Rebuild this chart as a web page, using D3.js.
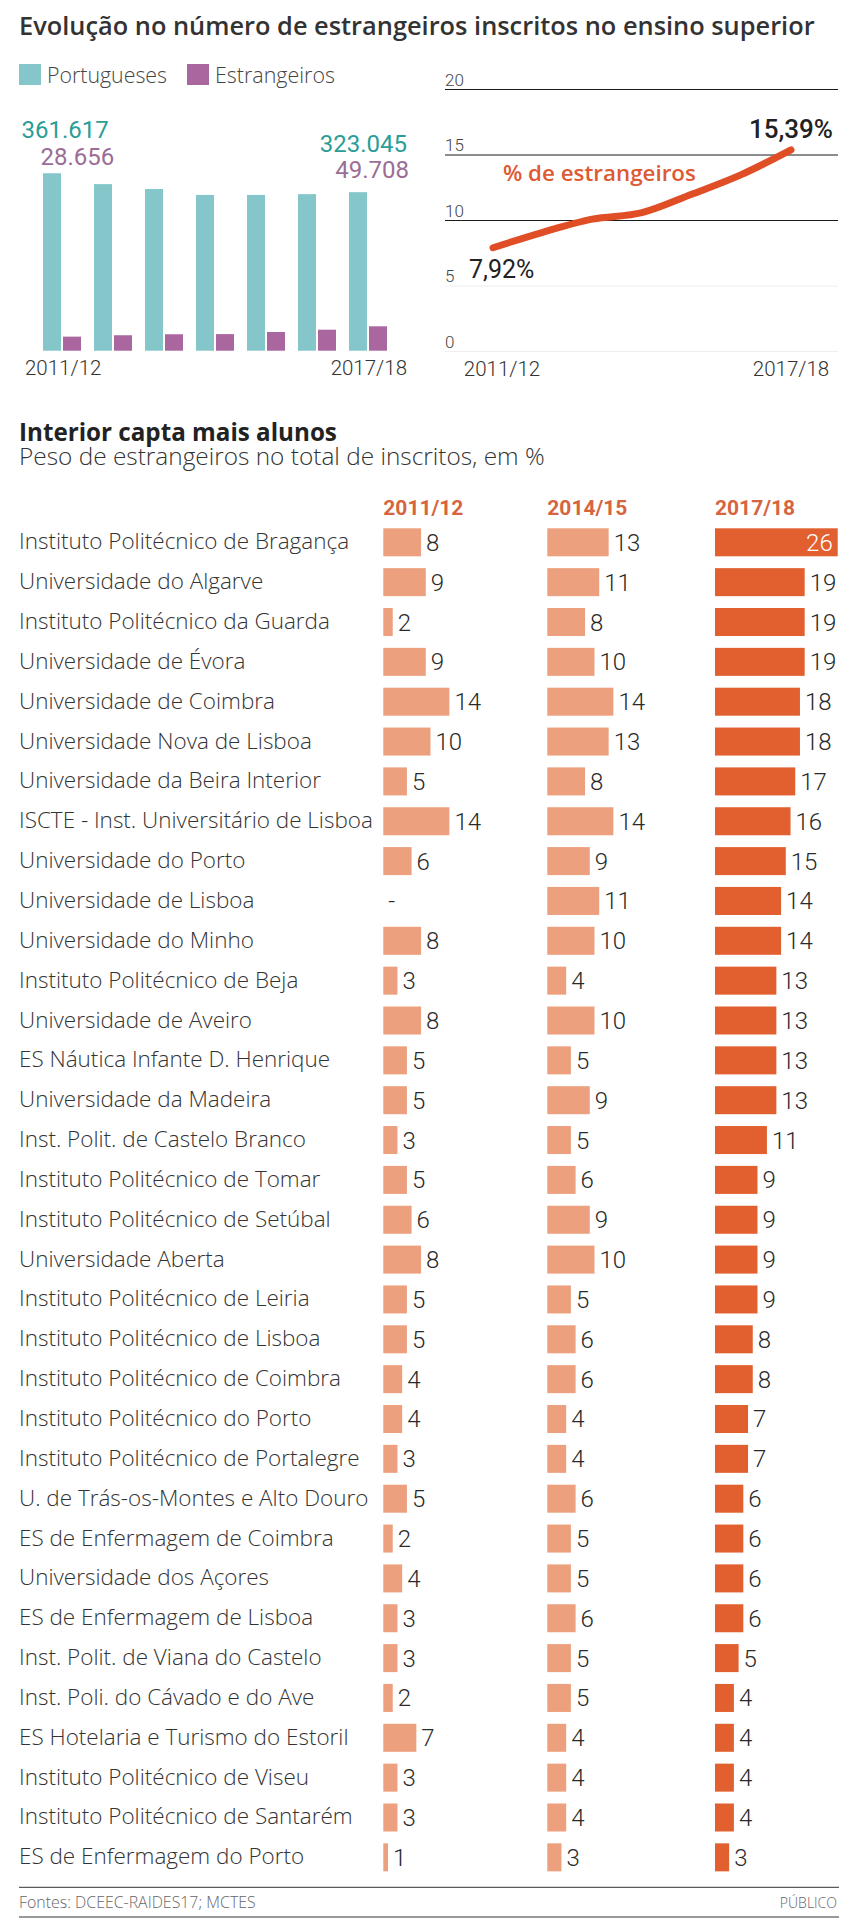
<!DOCTYPE html>
<html>
<head>
<meta charset="utf-8">
<script src="https://cdn.jsdelivr.net/npm/d3@7"></script>
<style>
  html, body { margin: 0; padding: 0; background: #fff; }
  svg { display: block; }
  text { font-family: Roboto, "Noto Sans", "DejaVu Sans", sans-serif; }
  .os { font-family: "Open Sans", Roboto, "Noto Sans", sans-serif; }
</style>
</head>
<body>
<svg id="chart" width="849" height="1927"></svg>
<script>
// ---------------- DATA ----------------
const years = ["2011/12", "2012/13", "2013/14", "2014/15", "2015/16", "2016/17", "2017/18"];
const portugueses = [361617, 339500, 329500, 317500, 317500, 319000, 323045];
const estrangeiros = [28656, 31500, 33500, 33800, 38100, 42800, 49708];
const pctEstrangeiros = [7.92, 9.1, 10.1, 10.6, 12.0, 13.5, 15.39];
const pctTicks = [0, 5, 10, 15, 20];
const legendLabels = ["Portugueses", "Estrangeiros"];

const institutions = [
  "Instituto Politécnico de Bragança",
  "Universidade do Algarve",
  "Instituto Politécnico da Guarda",
  "Universidade de Évora",
  "Universidade de Coimbra",
  "Universidade Nova de Lisboa",
  "Universidade da Beira Interior",
  "ISCTE - Inst. Universitário de Lisboa",
  "Universidade do Porto",
  "Universidade de Lisboa",
  "Universidade do Minho",
  "Instituto Politécnico de Beja",
  "Universidade de Aveiro",
  "ES Náutica Infante D. Henrique",
  "Universidade da Madeira",
  "Inst. Polit. de Castelo Branco",
  "Instituto Politécnico de Tomar",
  "Instituto Politécnico de Setúbal",
  "Universidade Aberta",
  "Instituto Politécnico de Leiria",
  "Instituto Politécnico de Lisboa",
  "Instituto Politécnico de Coimbra",
  "Instituto Politécnico do Porto",
  "Instituto Politécnico de Portalegre",
  "U. de Trás-os-Montes e Alto Douro",
  "ES de Enfermagem de Coimbra",
  "Universidade dos Açores",
  "ES de Enfermagem de Lisboa",
  "Inst. Polit. de Viana do Castelo",
  "Inst. Poli. do Cávado e do Ave",
  "ES Hotelaria e Turismo do Estoril",
  "Instituto Politécnico de Viseu",
  "Instituto Politécnico de Santarém",
  "ES de Enfermagem do Porto"
];
const columnYears = ["2011/12", "2014/15", "2017/18"];
const peso2011 = [8, 9, 2, 9, 14, 10, 5, 14, 6, null, 8, 3, 8, 5, 5, 3, 5, 6, 8, 5, 5, 4, 4, 3, 5, 2, 4, 3, 3, 2, 7, 3, 3, 1];
const peso2014 = [13, 11, 8, 10, 14, 13, 8, 14, 9, 11, 10, 4, 10, 5, 9, 5, 6, 9, 10, 5, 6, 6, 4, 4, 6, 5, 5, 6, 5, 5, 4, 4, 4, 3];
const peso2017 = [26, 19, 19, 19, 18, 18, 17, 16, 15, 14, 14, 13, 13, 13, 13, 11, 9, 9, 9, 9, 8, 8, 7, 7, 6, 6, 6, 6, 5, 4, 4, 4, 4, 3];

// ---------------- STYLE ----------------
const C = {
  title: "#333",
  teal: "#84c6c9", tealText: "#2a9e96",
  purple: "#a9669f", purpleText: "#9b6d96",
  orange: "#e04e26", orangeText: "#dd5a33",
  light: "#eda07d", dark: "#e2602f", header: "#d6653f",
  text: "#2a2a2a"
};

const svg = d3.select("#chart");
svg.append("rect").attr("width", 849).attr("height", 1927).attr("fill", "#fff");

const ptFormat = d3.formatLocale({ decimal: ",", thousands: ".", grouping: [3], currency: ["", "€"] });
const fmtInt = ptFormat.format(",d");
const fmtPct = ptFormat.format(".2f");

// scale a text's font-size so that its width matches a target width
function fitWidth(sel, target) {
  const fs = +sel.attr("font-size");
  const w = sel.node().getComputedTextLength();
  if (w > 0) sel.attr("font-size", fs * target / w);
  return sel;
}

// Title
fitWidth(svg.append("text").attr("class", "os").attr("x", 19).attr("y", 34.5)
  .attr("font-size", 23).attr("font-weight", 600).attr("fill", C.title)
  .text("Evolução no número de estrangeiros inscritos no ensino superior"), 796);

// ---------------- LEFT: grouped bars ----------------
const legend = svg.append("g");
[C.teal, C.purple].forEach((col, i) => {
  const lx = [19, 187][i];
  legend.append("rect").attr("x", lx).attr("y", 64).attr("width", 22).attr("height", 21).attr("fill", col);
  fitWidth(legend.append("text").attr("class", "os").attr("x", lx + 28).attr("y", 83)
    .attr("font-size", 20).attr("font-weight", 300).attr("fill", "#444")
    .text(legendLabels[i]), 120);
});

const xb = d3.scaleBand().domain(years).range([43, 387]).paddingInner(13 / 51).paddingOuter(0);
const xSub = d3.scaleBand().domain(["p", "e"]).range([0, xb.bandwidth()]).paddingInner(0.1);
const yb = d3.scaleLinear().domain([0, 400000]).range([350.7, 350.7 - 400000 / 2038]);

const groups = svg.append("g").selectAll("g").data(years).join("g")
  .attr("transform", d => `translate(${xb(d)},0)`);
groups.append("rect")
  .attr("x", xSub("p")).attr("width", xSub.bandwidth())
  .attr("y", (d, i) => yb(portugueses[i])).attr("height", (d, i) => yb(0) - yb(portugueses[i]))
  .attr("fill", C.teal);
groups.append("rect")
  .attr("x", xSub("e")).attr("width", xSub.bandwidth())
  .attr("y", (d, i) => yb(estrangeiros[i])).attr("height", (d, i) => yb(0) - yb(estrangeiros[i]))
  .attr("fill", C.purple);

const last = years.length - 1;
const numStyle = s => s.attr("font-size", 24).attr("font-weight", 400);
numStyle(svg.append("text")).attr("x", 21.5).attr("y", 138).attr("fill", C.tealText).text(fmtInt(portugueses[0]));
numStyle(svg.append("text")).attr("x", 40.5).attr("y", 165).attr("fill", C.purpleText).text(fmtInt(estrangeiros[0]));
numStyle(svg.append("text")).attr("x", 407).attr("y", 152).attr("text-anchor", "end").attr("fill", C.tealText).text(fmtInt(portugueses[last]));
numStyle(svg.append("text")).attr("x", 409).attr("y", 178).attr("text-anchor", "end").attr("fill", C.purpleText).text(fmtInt(estrangeiros[last]));

svg.append("text").attr("x", 25).attr("y", 375).attr("font-size", 20.5).attr("font-weight", 300).attr("fill", "#333").text(years[0]);
svg.append("text").attr("x", 407).attr("y", 375).attr("text-anchor", "end").attr("font-size", 20.5).attr("font-weight", 300).attr("fill", "#333").text(years[last]);

// ---------------- RIGHT: line ----------------
const xl = d3.scalePoint().domain(years).range([493, 791]);
const yl = d3.scaleLinear().domain([0, 20]).range([351.5, 89.5]);
const gridX0 = 445, gridX1 = 838;

const grid = svg.append("g");
grid.selectAll("line").data(pctTicks).join("line")
  .attr("x1", gridX0).attr("x2", gridX1)
  .attr("y1", d => yl(d)).attr("y2", d => yl(d))
  .attr("stroke", d => d >= 10 ? "#1a1a1a" : "#eeeeee").attr("stroke-width", 1);
grid.selectAll("text").data(pctTicks).join("text")
  .attr("x", gridX0).attr("y", d => yl(d) - 4)
  .attr("font-size", 17).attr("font-weight", 300).attr("fill", "#444")
  .text(d => d);

const line = d3.line().x((d, i) => xl(years[i])).y(d => yl(d)).curve(d3.curveMonotoneX);
svg.append("path").datum(pctEstrangeiros).attr("d", line)
  .attr("fill", "none").attr("stroke", C.orange).attr("stroke-width", 7)
  .attr("stroke-linecap", "round").attr("stroke-linejoin", "round");

fitWidth(svg.append("text").attr("class", "os").attr("x", 503).attr("y", 181)
  .attr("font-size", 20).attr("font-weight", 600).attr("fill", C.orangeText)
  .text("% de estrangeiros"), 193);
svg.append("text").attr("x", 833).attr("y", 138).attr("text-anchor", "end")
  .attr("font-size", 26).attr("font-weight", 500).attr("fill", "#222")
  .text(fmtPct(pctEstrangeiros[last]) + "%");
svg.append("text").attr("x", 469).attr("y", 278)
  .attr("font-size", 25).attr("font-weight", 400).attr("fill", "#222")
  .text(fmtPct(pctEstrangeiros[0]) + "%");

svg.append("text").attr("x", xl(years[0]) + 9).attr("y", 376).attr("text-anchor", "middle")
  .attr("font-size", 20.5).attr("font-weight", 300).attr("fill", "#333").text(years[0]);
svg.append("text").attr("x", xl(years[last])).attr("y", 376).attr("text-anchor", "middle")
  .attr("font-size", 20.5).attr("font-weight", 300).attr("fill", "#333").text(years[last]);

// ---------------- TABLE of bars ----------------
fitWidth(svg.append("text").attr("class", "os").attr("x", 19).attr("y", 441)
  .attr("font-size", 22).attr("font-weight", 700).attr("fill", "#222")
  .text("Interior capta mais alunos"), 318);
fitWidth(svg.append("text").attr("class", "os").attr("x", 19).attr("y", 464.5)
  .attr("font-size", 20).attr("font-weight", 300).attr("fill", "#333")
  .text("Peso de estrangeiros no total de inscritos, em %"), 526);

const colX = [383.3, 547.3, 715];
const colFill = [C.light, C.light, C.dark];
const colData = [peso2011, peso2014, peso2017];

const yr = d3.scaleBand().domain(institutions).range([528.3, 528.3 + 39.85 * 34 - 11.85]).paddingInner(0.297).paddingOuter(0);
const xv = d3.scaleLinear().domain([0, 26]).range([0, 26 * 4.72]);

svg.append("g").selectAll("text").data(columnYears).join("text")
  .attr("x", (d, i) => colX[i]).attr("y", 515)
  .attr("font-size", 21).attr("font-weight", 700).attr("fill", C.header)
  .text(d => d);

const labels = svg.append("g").selectAll("text").data(institutions).join("text")
  .attr("class", "os")
  .attr("x", 19).attr("y", d => yr(d) + yr.bandwidth() / 2 + 7)
  .attr("font-size", 20).attr("font-weight", 300).attr("fill", "#333")
  .text(d => d);
// common size so that the longest label spans its reference width
{
  const ref = d3.select(labels.nodes()[7]);
  const w = ref.node().getComputedTextLength();
  if (w > 0) labels.attr("font-size", 20 * 354 / w);
}

colData.forEach((vals, c) => {
  const g = svg.append("g").attr("transform", `translate(${colX[c]},0)`);
  g.selectAll("rect").data(vals).join("rect")
    .attr("x", 0).attr("y", (d, i) => yr(institutions[i]))
    .attr("width", d => d == null ? 0 : xv(d)).attr("height", yr.bandwidth())
    .attr("fill", colFill[c]);
  g.selectAll("text").data(vals).join("text")
    .attr("y", (d, i) => yr(institutions[i]) + yr.bandwidth() / 2 + 8.5)
    .attr("font-size", 24).attr("font-weight", 300)
    .each(function (d) {
      const t = d3.select(this);
      const w = d == null ? 0 : xv(d);
      const inside = colX[c] + w + 40 > 849;
      if (inside) {
        t.attr("x", w - 5).attr("text-anchor", "end").attr("fill", "#fff").text(d);
      } else {
        t.attr("x", w + 5).attr("text-anchor", "start").attr("fill", C.text).text(d == null ? "-" : d);
      }
    });
});

// ---------------- FOOTER ----------------
svg.append("line").attr("x1", 19).attr("x2", 839).attr("y1", 1887.3).attr("y2", 1887.3).attr("stroke", "#333").attr("stroke-width", 1);
svg.append("line").attr("x1", 19).attr("x2", 839).attr("y1", 1917).attr("y2", 1917).attr("stroke", "#333").attr("stroke-width", 1);
fitWidth(svg.append("text").attr("class", "os").attr("x", 19).attr("y", 1907.5).attr("font-size", 14).attr("font-weight", 300).attr("fill", "#666")
  .text("Fontes: DCEEC-RAIDES17; MCTES"), 237);
svg.append("text").attr("class", "os").attr("x", 837).attr("y", 1907.5).attr("text-anchor", "end").attr("font-size", 14).attr("font-weight", 300).attr("fill", "#666")
  .text("PÚBLICO");
</script>
</body>
</html>
